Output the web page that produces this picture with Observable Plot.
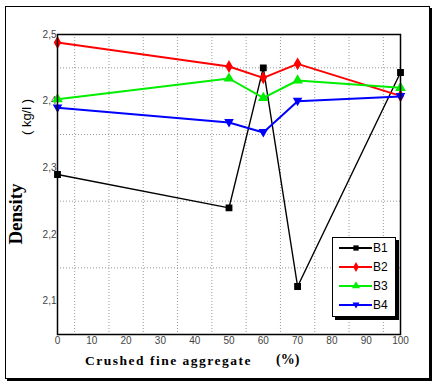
<!DOCTYPE html>
<html><head><meta charset="utf-8">
<script src="https://cdn.jsdelivr.net/npm/d3@7"></script>
<script src="https://cdn.jsdelivr.net/npm/@observablehq/plot@0.6"></script>
<style>
body{margin:0;background:#fff;}
#wrap{position:relative;width:437px;height:386px;overflow:hidden;}
#border{position:absolute;left:5px;top:6px;width:425px;height:373px;border:1.5px solid #000;box-shadow:2px 2px 0 #000;box-sizing:border-box;pointer-events:none;}
.lab{position:absolute;white-space:nowrap;}
#legend{position:absolute;left:332px;top:237px;width:64px;height:80px;background:#fff;border:1px solid #000;box-shadow:3px 3px 0 #000;box-sizing:border-box;font-family:"Liberation Sans",Arial,sans-serif;font-size:12px;}
.row{display:flex;align-items:center;height:19px;padding-left:6px;}
.row svg{margin-right:1px;}
</style></head>
<body><div id="wrap"><div id="border"></div></div>
<script>
const xs = [0, 50, 60, 70, 100];
const B1 = [2.29, 2.24, 2.45, 2.122, 2.443];
const B2 = [2.488, 2.452, 2.435, 2.456, 2.408];
const B3 = [2.403, 2.434, 2.405, 2.431, 2.42];
const B4 = [2.39, 2.368, 2.353, 2.40, 2.407];
const seriesNames = ["B1", "B2", "B3", "B4"];
const seriesColors = ["#000000", "#ff0000", "#00ee00", "#0000ff"];
const xTicks = [0,10,20,30,40,50,60,70,80,90,100];
const yTicks = [2.1,2.2,2.3,2.4,2.5];
const xGrid = [5,15,25,35,45,55,65,75,85,95];
const yGrid = [2.15,2.25,2.35,2.45];

const triDown = {draw(ctx, size){
  const h = Math.sqrt(size) * 1.1;
  ctx.moveTo(0, h*0.6); ctx.lineTo(h*0.6, -h*0.45); ctx.lineTo(-h*0.6, -h*0.45); ctx.closePath();
}};
const symbols = ["square", "diamond", "triangle", triDown];

const allSeries = [B1, B2, B3, B4];
const rows = [];
allSeries.forEach((vals, i) => vals.forEach((v, j) => rows.push({s: seriesNames[i], x: xs[j], y: v})));

const marks = [
  Plot.ruleX(xGrid, {stroke: "#999", strokeDasharray: "1,2", strokeWidth: 1}),
  Plot.ruleY(yGrid, {stroke: "#999", strokeDasharray: "1,2", strokeWidth: 1}),
  Plot.axisX({ticks: xTicks, tickSize: 0, tickPadding: 2, tickFormat: d => d, fontSize: 10, fill: "#444", label: null}),
  Plot.axisY({ticks: yTicks, tickSize: 0, tickPadding: 1, tickFormat: d => d3.format(".1f")(d).replace(".", ","), fontSize: 10, fill: "#444", label: null}),
];
seriesNames.forEach((name, i) => {
  const d = rows.filter(r => r.s === name);
  marks.push(Plot.line(d, {x: "x", y: "y", stroke: seriesColors[i], strokeWidth: i === 0 ? 1.4 : 2}));
  marks.push(Plot.dot(d, {x: "x", y: "y", fill: seriesColors[i], stroke: seriesColors[i], symbol: () => symbols[i], r: 3}));
});
marks.push(Plot.frame({stroke: "#000", strokeWidth: 1.5}));

const chart = Plot.plot({
  width: 437, height: 386,
  marginLeft: 57, marginRight: 37, marginTop: 34, marginBottom: 52,
  x: {domain: [0, 100]},
  y: {domain: [2.05, 2.5]},
  style: {fontFamily: "'Liberation Sans Narrow','Liberation Sans',Arial,sans-serif", background: "transparent"},
  marks
});
const wrap = document.getElementById("wrap");
chart.style.position = "absolute"; chart.style.left = "0"; chart.style.top = "0";
wrap.insertBefore(chart, wrap.firstChild);

function addLab(text, css){ const el = document.createElement("div"); el.className = "lab"; el.textContent = text; Object.assign(el.style, css); wrap.appendChild(el); return el; }
addLab("Density", {left: "16px", top: "214px", font: "bold 19px 'Liberation Serif','Times New Roman',serif", transform: "translate(-50%,-50%) rotate(-90deg)"});
addLab("( kg/l )", {left: "26px", top: "117px", font: "13px 'Liberation Sans',Arial,sans-serif", transform: "translate(-50%,-50%) rotate(-90deg)"});
addLab("Crushed fine aggregate", {left: "85px", top: "353px", font: "bold 13.5px 'Liberation Serif','Times New Roman',serif", letterSpacing: "1.5px"});
addLab("(%)", {left: "276px", top: "352px", font: "bold 14px 'Liberation Serif','Times New Roman',serif"});

const leg = document.createElement("div"); leg.id = "legend";
seriesNames.forEach((name, i) => {
  const row = document.createElement("div"); row.className = "row";
  const sym = typeof symbols[i] === "string" ? d3.symbol(d3["symbol" + symbols[i][0].toUpperCase() + symbols[i].slice(1)], 28)() : d3.symbol(triDown, 28)();
  row.innerHTML = `<svg width="33" height="12"><line x1="0" x2="33" y1="6" y2="6" stroke="${seriesColors[i]}" stroke-width="2"/><path d="${sym}" transform="translate(17,6)" fill="${seriesColors[i]}"/></svg><span>${name}</span>`;
  leg.appendChild(row);
});
wrap.appendChild(leg);
</script></body></html>
